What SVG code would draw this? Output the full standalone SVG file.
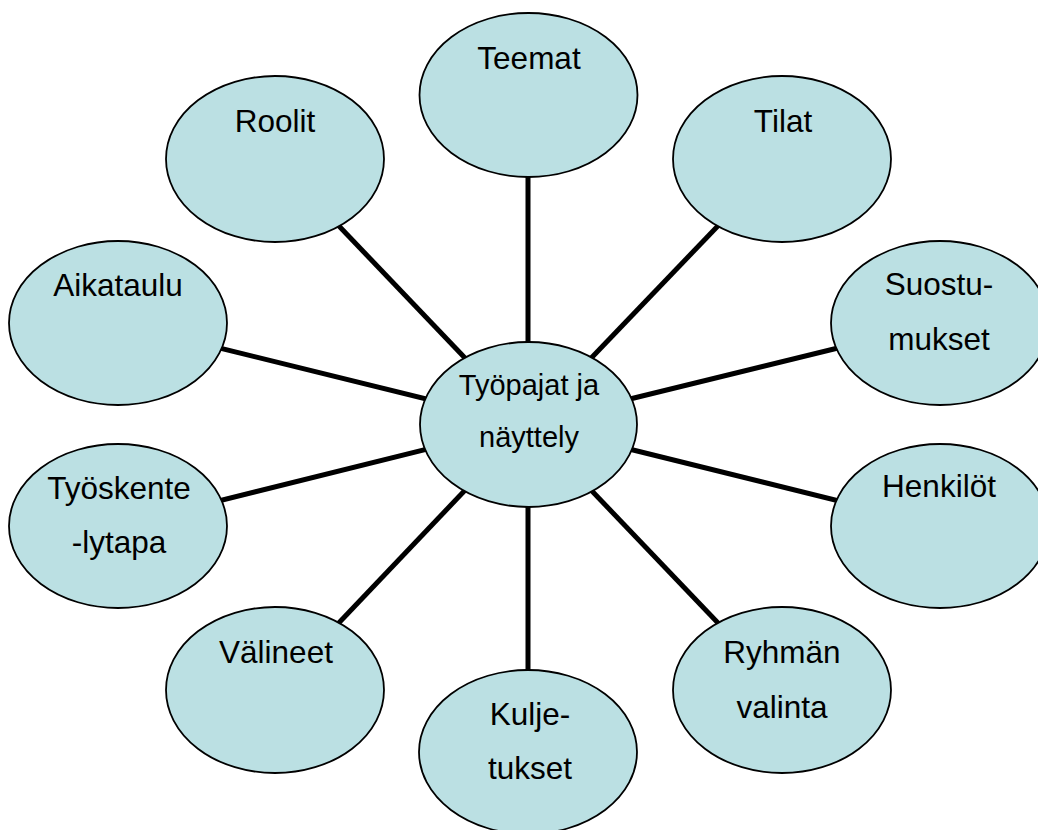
<svg xmlns="http://www.w3.org/2000/svg" width="1038" height="830" viewBox="0 0 1038 830">
<style>
.n{fill:#BBE0E3;stroke:#000;stroke-width:1.8}
.t{font-family:"Liberation Sans",Arial,sans-serif;font-size:31.5px;fill:#000;text-anchor:middle}
.c{font-size:29px}
.e line{stroke:#000;stroke-width:5}
</style>
<rect width="1038" height="830" fill="#fff"/>
<g id="connectors" class="e">
<line x1="528" y1="424" x2="528" y2="95"/>
<line x1="528" y1="424" x2="782" y2="159"/>
<line x1="528" y1="424" x2="940" y2="323"/>
<line x1="528" y1="424" x2="940" y2="526"/>
<line x1="528" y1="424" x2="782" y2="690"/>
<line x1="528" y1="424" x2="528" y2="752"/>
<line x1="528" y1="424" x2="275" y2="690"/>
<line x1="528" y1="424" x2="118" y2="526"/>
<line x1="528" y1="424" x2="118" y2="323"/>
<line x1="528" y1="424" x2="275" y2="159"/>
</g>
<g id="center"><ellipse class="n" cx="528.5" cy="424.5" rx="108.5" ry="82.5"/><text class="t c" x="529" y="395">Työpajat ja</text><text class="t c" x="529" y="447">näyttely</text></g>
<g id="teemat"><ellipse class="n" cx="528.5" cy="95" rx="109" ry="82"/><text class="t" x="529" y="69">Teemat</text></g>
<g id="tilat"><ellipse class="n" cx="782" cy="159" rx="109" ry="83"/><text class="t" x="783" y="132">Tilat</text></g>
<g id="suostumukset"><ellipse class="n" cx="940" cy="323" rx="109" ry="82"/><text class="t" x="939" y="295">Suostu-</text><text class="t" x="939" y="350">mukset</text></g>
<g id="henkilot"><ellipse class="n" cx="940" cy="526" rx="109" ry="82"/><text class="t" x="939" y="497">Henkilöt</text></g>
<g id="ryhman"><ellipse class="n" cx="782" cy="690" rx="109" ry="83"/><text class="t" x="782" y="663">Ryhmän</text><text class="t" x="782" y="718">valinta</text></g>
<g id="kuljetukset"><ellipse class="n" cx="528" cy="752" rx="109" ry="82"/><text class="t" x="530" y="725">Kulje-</text><text class="t" x="530" y="779">tukset</text></g>
<g id="valineet"><ellipse class="n" cx="275" cy="690" rx="109" ry="83"/><text class="t" x="276" y="663">Välineet</text></g>
<g id="tyoskentelytapa"><ellipse class="n" cx="118" cy="526" rx="109" ry="82"/><text class="t" x="119" y="499">Työskente</text><text class="t" x="119" y="553">-lytapa</text></g>
<g id="aikataulu"><ellipse class="n" cx="118" cy="323" rx="109" ry="82"/><text class="t" x="118" y="296">Aikataulu</text></g>
<g id="roolit"><ellipse class="n" cx="275" cy="159" rx="109" ry="83"/><text class="t" x="275" y="132">Roolit</text></g>
</svg>
